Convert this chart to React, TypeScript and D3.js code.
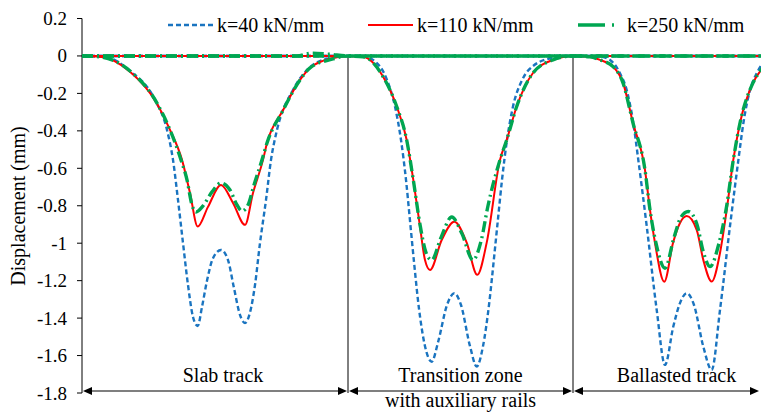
import React from 'react';
import * as d3 from 'd3';

const W = 761;
const H = 412;
const FONT = '"Liberation Serif"';

// y axis ticks
const yTicks = [0.2, 0, -0.2, -0.4, -0.6, -0.8, -1, -1.2, -1.4, -1.6, -1.8];
const yTickLabels = ['0.2', '0', '-0.2', '-0.4', '-0.6', '-0.8', '-1', '-1.2', '-1.4', '-1.6', '-1.8'];

// section borders along the track (position units) and their names
const sectionEdges = [0, 26.6, 49.1, 67.8];
const sectionNames = [['Slab track'], ['Transition zone', 'with auxiliary rails'], ['Ballasted track']];

const seriesNames = ['k=40 kN/mm', 'k=110 kN/mm', 'k=250 kN/mm'];

type Pt = [number, number];

// k=40 kN/mm
const k40Slab: Pt[] = [[0, 0], [2.3, -0.005], [4.8, -0.08], [7.3, -0.235], [8.5, -0.395], [9.1, -0.555], [9.6, -0.769], [10.1, -0.999], [10.6, -1.223], [11.1, -1.394], [11.57, -1.442], [12.0, -1.34], [12.5, -1.2], [13.1, -1.08], [13.9, -1.036], [14.6, -1.09], [15.2, -1.24], [15.8, -1.383], [16.3, -1.426], [16.8, -1.37], [17.3, -1.223], [17.8, -0.999], [18.4, -0.769], [18.9, -0.555], [19.5, -0.395], [21.1, -0.182], [22.5, -0.075], [24.8, -0.011], [26.6, 0]];
const k40Trans: Pt[] = [[25.8, 0], [28.1, -0.002], [29.1, -0.021], [30.5, -0.128], [31.3, -0.27], [31.9, -0.449], [32.4, -0.662], [32.8, -0.88], [33.2, -1.1], [33.7, -1.35], [34.3, -1.55], [34.97, -1.633], [35.6, -1.53], [36.5, -1.33], [37.23, -1.267], [37.9, -1.33], [38.8, -1.55], [39.47, -1.659], [40.1, -1.55], [40.7, -1.33], [41.2, -1.08], [41.6, -0.87], [42.0, -0.662], [42.5, -0.449], [43.1, -0.27], [44.0, -0.13], [45.2, -0.05], [47.1, -0.01], [49.1, 0]];
const k40Ball: Pt[] = [[49.1, 0], [51.8, -0.003], [52.8, -0.021], [53.8, -0.093], [54.47, -0.182], [55.13, -0.358], [55.63, -0.555], [56.47, -0.908], [57.47, -1.356], [58.3, -1.65], [59.13, -1.445], [59.8, -1.32], [60.47, -1.267], [61.2, -1.33], [62.13, -1.552], [62.97, -1.677], [63.8, -1.356], [64.8, -0.908], [65.64, -0.555], [66.14, -0.358], [66.8, -0.182], [67.47, -0.093], [68.47, -0.021], [70.5, 0]];

// k=110 kN/mm
const k110Slab: Pt[] = [[0, 0], [1.8, -0.004], [4.8, -0.084], [7.47, -0.252], [8.8, -0.395], [10.0, -0.555], [10.8, -0.732], [11.57, -0.911], [12.6, -0.806], [13.9, -0.689], [15.1, -0.785], [16.3, -0.902], [17.1, -0.732], [18.1, -0.555], [18.5, -0.465], [20.1, -0.29], [21.8, -0.128], [22.8, -0.064], [25.1, -0.011], [26.6, 0]];
const k110Trans: Pt[] = [[25.8, 0], [28.1, -0.004], [30.1, -0.11], [31.47, -0.27], [32.47, -0.449], [33.13, -0.662], [33.8, -0.911], [34.3, -1.09], [34.8, -1.143], [35.97, -0.983], [37.23, -0.885], [38.47, -0.997], [39.53, -1.169], [40.47, -0.997], [41.8, -0.555], [42.47, -0.449], [43.47, -0.27], [45.1, -0.091], [47.1, -0.021], [49.1, 0]];
const k110Ball: Pt[] = [[49.1, 0], [50.8, -0.005], [51.8, -0.021], [53.1, -0.057], [54.1, -0.144], [55.1, -0.358], [56.3, -0.609], [56.8, -0.822], [57.3, -0.999], [58.23, -1.206], [59.1, -0.999], [59.8, -0.892], [60.47, -0.855], [61.47, -0.929], [62.13, -1.089], [62.97, -1.205], [63.8, -1.052], [64.47, -0.822], [65.13, -0.555], [65.8, -0.358], [67.1, -0.144], [67.9, -0.075], [68.8, -0.021], [70.3, 0]];

// k=250 kN/mm
const k250Slab: Pt[] = [[0, 0], [1.8, -0.005], [4.8, -0.08], [7.5, -0.252], [8.8, -0.395], [9.9, -0.555], [10.5, -0.662], [11.0, -0.796], [11.4, -0.833], [12.1, -0.801], [13.0, -0.726], [13.9, -0.678], [14.8, -0.716], [15.5, -0.796], [16.0, -0.828], [16.6, -0.796], [17.2, -0.689], [18.0, -0.555], [18.5, -0.465], [20.1, -0.29], [21.8, -0.128], [22.8, -0.064], [25.1, -0.016], [26.6, 0]];
const k250Trans: Pt[] = [[21.5, 0], [23.0, 0.015], [24.5, 0.01], [26.6, 0], [28.1, -0.004], [30.1, -0.11], [31.47, -0.27], [32.47, -0.449], [33.13, -0.662], [33.8, -0.9], [34.4, -1.05], [34.97, -1.09], [35.9, -0.97], [36.97, -0.86], [38.0, -0.95], [39.1, -1.09], [39.9, -0.99], [40.6, -0.8], [41.8, -0.555], [42.47, -0.449], [43.47, -0.27], [45.1, -0.091], [47.1, -0.021], [49.1, 0]];
const k250Ball: Pt[] = [[49.1, 0], [50.8, -0.005], [51.8, -0.021], [53.1, -0.057], [54.1, -0.144], [55.1, -0.358], [56.3, -0.609], [56.8, -0.822], [57.4, -1.0], [58.3, -1.134], [59.2, -0.97], [59.9, -0.86], [60.63, -0.831], [61.5, -0.9], [62.1, -1.04], [62.8, -1.125], [63.7, -1.0], [64.47, -0.8], [65.13, -0.555], [65.8, -0.358], [67.1, -0.144], [67.9, -0.075], [68.8, -0.021], [70.3, 0]];

const seriesCurves = [
  [k40Slab, k40Trans, k40Ball],
  [k110Slab, k110Trans, k110Ball],
  [k250Slab, k250Trans, k250Ball],
];

const styles = [
  { color: '#1a74c0', width: 2.4, dash: '5,3', legendDash: '5,3' },
  { color: '#ff0000', width: 2, dash: null, legendDash: null },
  { color: '#00a651', width: 3.4, dash: '11,4,2,4', legendDash: '27,7,2,8' },
];

const X_MIN = 0;
const X_MAX = 68;

function Label(props: { x: number; y: number; size: number; anchor?: string; transform?: string; children: string }) {
  return (
    <text
      x={props.x}
      y={props.y}
      transform={props.transform}
      textAnchor={props.anchor || 'start'}
      style={{ fontFamily: FONT, fontSize: props.size, fill: '#000' }}
    >
      {props.children}
    </text>
  );
}

export default function App() {
  const x = d3.scaleLinear().domain([X_MIN, X_MAX]).range([82, 762]);
  const y = d3.scaleLinear().domain([-1.8, 0.2]).range([393, 18.5]);

  const line = d3
    .line<Pt>()
    .x((d) => x(d[0]))
    .y((d) => y(d[1]))
    .curve(d3.curveMonotoneX);

  // each displacement curve is zero outside its own section
  const full = (pts: Pt[]): Pt[] => {
    let out = pts.slice();
    if (out[0][0] > X_MIN) out = [[X_MIN, 0] as Pt, ...out];
    if (out[out.length - 1][0] < X_MAX + 2) out = [...out, [X_MAX + 2, 0] as Pt];
    return out;
  };

  const arrowY = 391;
  const head = 9;
  const hw = 4;

  const legendX = [168, 368, 578];

  return (
    <div style={{ position: 'absolute', left: 0, top: 0, width: W, height: H, background: '#fff' }}>
      <svg width={W} height={H} style={{ display: 'block' }}>
        <defs>
          <clipPath id="plot">
            <rect x={82} y={0} width={W - 82} height={H} />
          </clipPath>
        </defs>

        {/* y axis */}
        <line x1={82} x2={82} y1={y(0.2)} y2={y(-1.8)} stroke="#000" strokeWidth={1} />
        {yTicks.map((t, i) => (
          <g key={t}>
            <line x1={77} x2={82} y1={y(t)} y2={y(t)} stroke="#000" strokeWidth={1} />
            <Label x={67} y={y(t) + 6.5} size={19} anchor="end">
              {yTickLabels[i]}
            </Label>
          </g>
        ))}
        <Label x={0} y={0} size={20} anchor="middle" transform="translate(25,206) rotate(-90)">
          Displacement (mm)
        </Label>

        {/* section dividers */}
        {sectionEdges.slice(1, 3).map((e) => (
          <line key={e} x1={x(e)} x2={x(e)} y1={y(0)} y2={y(-1.8)} stroke="#000" strokeWidth={1} />
        ))}

        {/* curves */}
        <g clipPath="url(#plot)">
          {seriesCurves.map((curves, si) => (
            <g key={si}>
              {curves.map((c, ci) => (
                <path
                  key={ci}
                  d={line(full(c)) || ''}
                  fill="none"
                  stroke={styles[si].color}
                  strokeWidth={styles[si].width}
                  strokeDasharray={styles[si].dash || undefined}
                  strokeLinejoin="round"
                />
              ))}
            </g>
          ))}
        </g>

        {/* section arrows */}
        {sectionNames.map((names, i) => {
          const a = x(sectionEdges[i]) + 1;
          const b = x(sectionEdges[i + 1]) - 1;
          const mid = (a + b) / 2;
          return (
            <g key={i}>
              <line x1={a + head} x2={b - head} y1={arrowY} y2={arrowY} stroke="#000" strokeWidth={1.2} />
              <path d={`M${a},${arrowY}L${a + head},${arrowY - hw}L${a + head},${arrowY + hw}Z`} fill="#000" />
              <path d={`M${b},${arrowY}L${b - head},${arrowY - hw}L${b - head},${arrowY + hw}Z`} fill="#000" />
              <Label x={mid + (i === 0 ? 8 : i === 1 ? 0 : 10)} y={382} size={20} anchor="middle">
                {names[0]}
              </Label>
              {names[1] && (
                <Label x={mid} y={407} size={20} anchor="middle">
                  {names[1]}
                </Label>
              )}
            </g>
          );
        })}

        {/* legend */}
        {seriesNames.map((n, i) => (
          <g key={n}>
            <rect x={legendX[i] - 2} y={14} width={172} height={22} fill="#fff" />
            <line
              x1={legendX[i]}
              x2={legendX[i] + (i === 2 ? 42 : 45)}
              y1={25}
              y2={25}
              stroke={styles[i].color}
              strokeWidth={styles[i].width}
              strokeDasharray={styles[i].legendDash || undefined}
            />
            <Label x={legendX[i] + 49} y={32} size={20}>
              {n}
            </Label>
          </g>
        ))}
      </svg>
    </div>
  );
}
